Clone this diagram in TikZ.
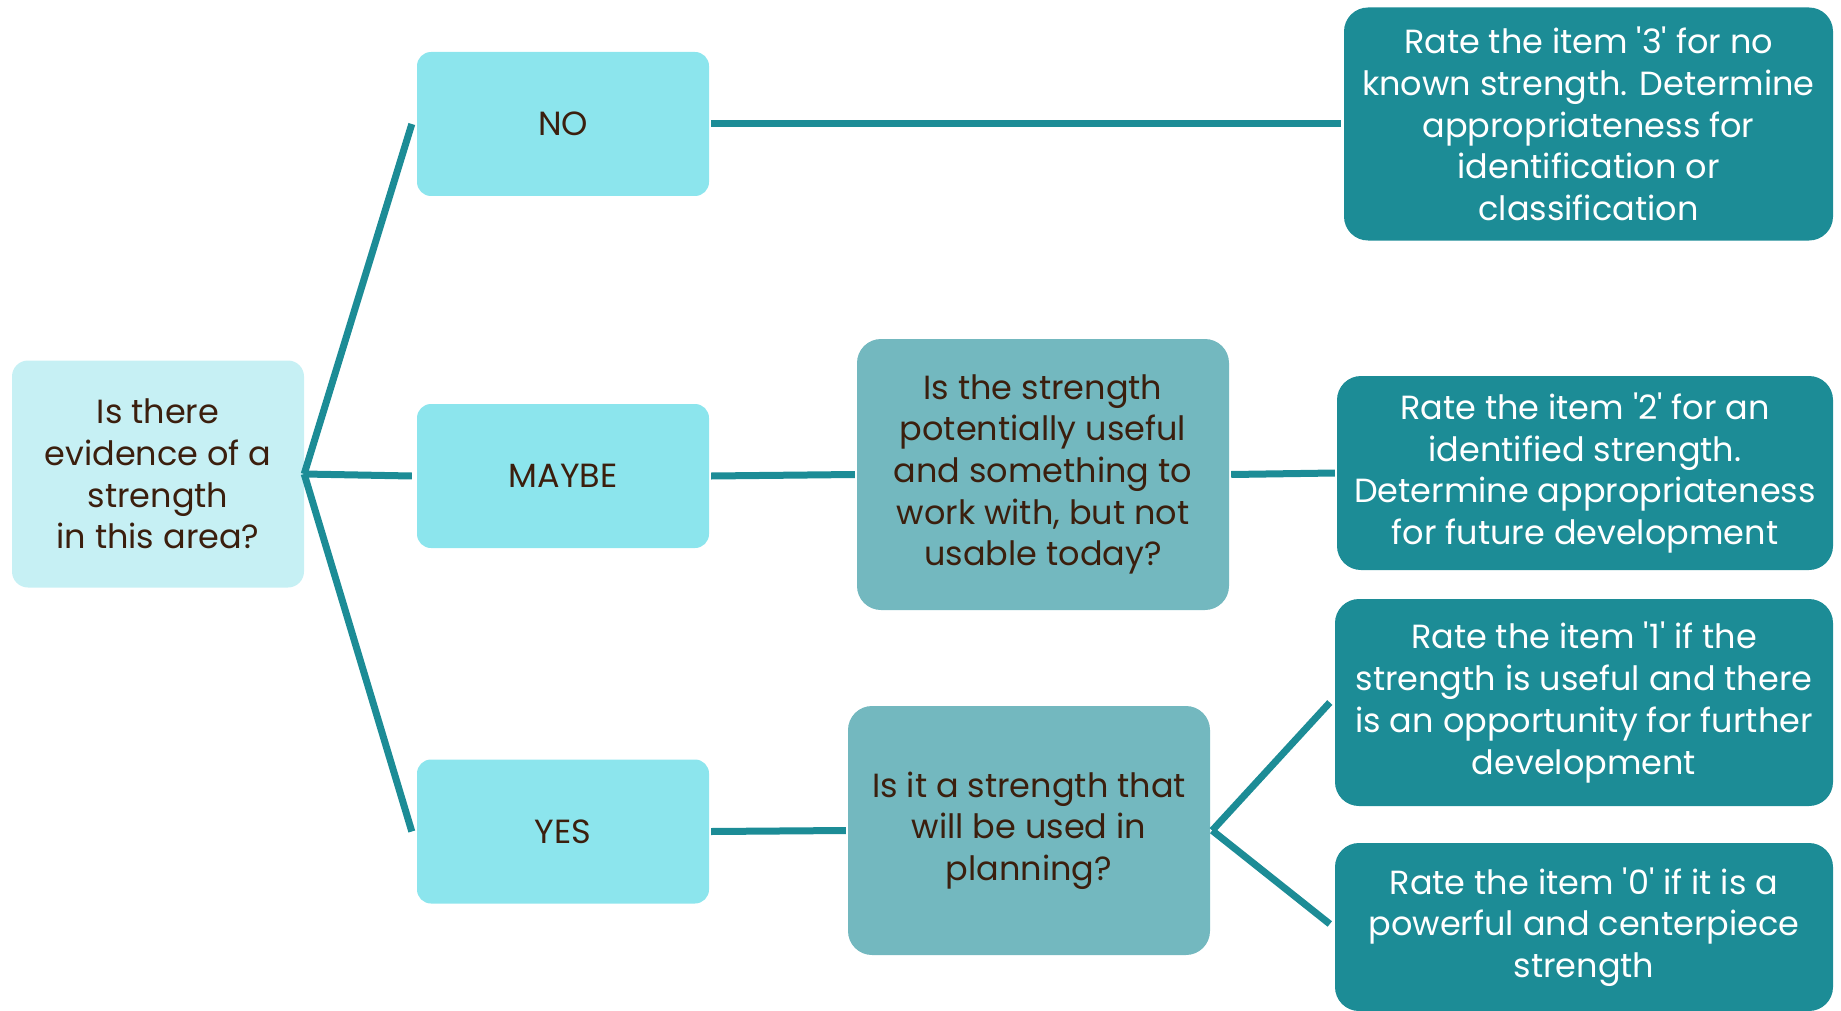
\documentclass[tikz,border=0pt]{standalone}
\usepackage{fontspec}
\setmainfont{Poppins}
\definecolor{rootfill}{HTML}{C6F0F4}
\definecolor{ansfill}{HTML}{8CE5ED}
\definecolor{qfill}{HTML}{73B8BF}
\definecolor{ratefill}{HTML}{1C8C96}
\definecolor{linecol}{HTML}{1C8C96}
\definecolor{txtbrown}{HTML}{3B1F0E}
\tikzset{
  basebox/.style={rectangle, inner sep=0pt, align=center, text=txtbrown,
    font=\fontsize{33.5}{41.7}\selectfont},
  rootbox/.style={basebox, fill=rootfill, rounded corners=16pt},
  ansbox/.style={basebox, fill=ansfill, rounded corners=14pt},
  qbox/.style={basebox, fill=qfill, rounded corners=24pt},
  ratebox/.style={basebox, fill=ratefill, text=white, rounded corners=24pt},
  conn/.style={draw=linecol, line width=7pt},
}
\begin{document}
\begin{tikzpicture}[x=1pt,y=-1pt]
\useasboundingbox (0,0) rectangle (1841,1011);
\node[rootbox, minimum width=292pt, minimum height=227pt] (root) at (158,474)
  {Is there\\evidence of a\\strength\\in this area?};
\node[ansbox, minimum width=292pt, minimum height=144pt] (no) at (563,124) {NO};
\node[ansbox, minimum width=292pt, minimum height=144pt] (maybe) at (563,476) {MAYBE};
\node[ansbox, minimum width=292pt, minimum height=144pt] (yes) at (563,831.5) {YES};
\node[qbox, minimum width=372pt, minimum height=271pt] (mq) at (1043,474.5)
  {Is the strength\\potentially useful\\and something to\\work with, but not\\usable today?};
\node[qbox, minimum width=362pt, minimum height=249pt] (yq) at (1029,830.5)
  {Is it a strength that\\will be used in\\planning?};
\node[ratebox, minimum width=489pt, minimum height=233pt] (r3) at (1588.5,124)
  {Rate the item \textquotesingle3\textquotesingle{} for no\\known strength. Determine\\appropriateness for\\identification or\\classification};
\node[ratebox, minimum width=496pt, minimum height=194pt] (r2) at (1585,473)
  {Rate the item \textquotesingle2\textquotesingle{} for an\\identified strength.\\Determine appropriateness\\for future development};
\node[ratebox, minimum width=498pt, minimum height=207pt] (r1) at (1584,702.5)
  {Rate the item \textquotesingle1\textquotesingle{} if the\\strength is useful and there\\is an opportunity for further\\development};
\node[ratebox, minimum width=498pt, minimum height=168pt] (r0) at (1584,927)
  {Rate the item \textquotesingle0\textquotesingle{} if it is a\\powerful and centerpiece\\strength};
\draw[conn] (root.east) -- ([xshift=-5pt]no.west);
\draw[conn] (root.east) -- ([xshift=-5pt]maybe.west);
\draw[conn] (root.east) -- ([xshift=-5pt]yes.west);
\draw[conn] ([xshift=2pt]no.east) -- ([xshift=-3pt]r3.west);
\draw[conn] ([xshift=2pt]maybe.east) -- ([xshift=-2pt]mq.west);
\draw[conn] ([xshift=2pt]mq.east) -- ([xshift=-2pt]r2.west);
\draw[conn] ([xshift=2pt]yes.east) -- ([xshift=-2pt]yq.west);
\draw[conn] ([xshift=2pt]yq.east) -- ([xshift=-5pt]r1.west);
\draw[conn] ([xshift=2pt]yq.east) -- ([xshift=-5pt,yshift=3pt]r0.west);
\end{tikzpicture}
\end{document}
